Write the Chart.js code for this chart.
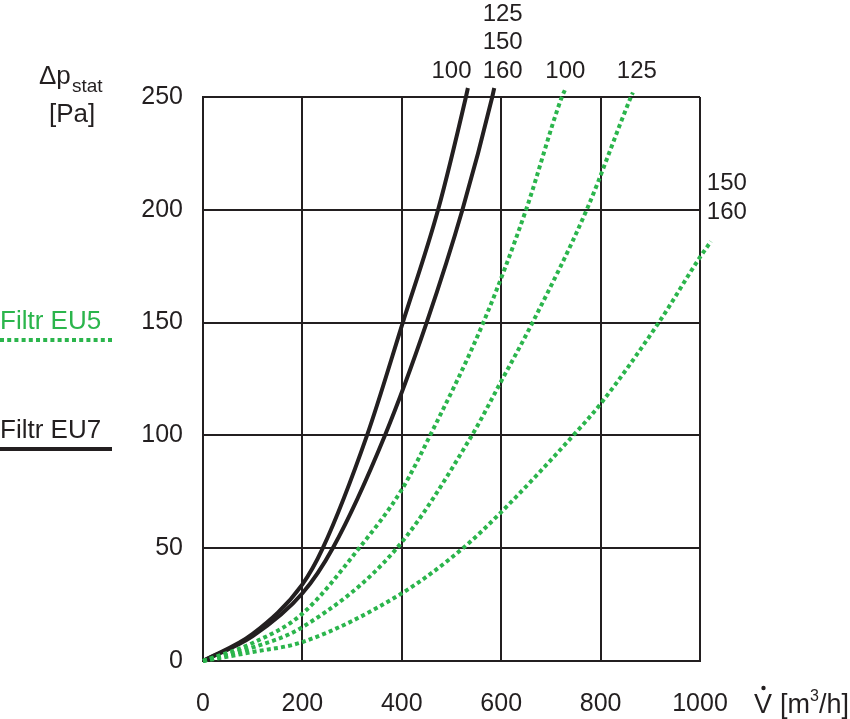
<!DOCTYPE html>
<html>
<head>
<meta charset="utf-8">
<script src="https://cdn.jsdelivr.net/npm/chart.js@4.4.1/dist/chart.umd.min.js"></script>
<style>
  html, body { margin: 0; padding: 0; background: #fff; }
  #wrap { width: 850px; height: 719px; }
</style>
</head>
<body>
<div id="wrap"><canvas id="chart" width="850" height="719"></canvas></div>
<script>
// values (flow in m3/h, pressure drop in Pa)
const xTicks = [0, 200, 400, 600, 800, 1000]
const yTicks = [0, 50, 100, 150, 200, 250]

const flowEu7_100 = [0, 100, 200, 241, 330, 402, 473, 529, 533]
const dpEu7_100   = [0, 12, 34, 50, 100, 150, 200, 250, 254]

const flowEu7_125 = [0, 100, 200, 261, 366, 450, 522, 582, 586]
const dpEu7_125   = [0, 11, 30, 50, 100, 150, 200, 250, 254]

const flowEu5_100 = [0, 100, 200, 314, 400, 457, 564, 650, 722, 728]
const dpEu5_100   = [0, 8, 21, 50, 76, 100, 150, 200, 250, 253]

const flowEu5_125 = [0, 100, 200, 390, 541, 600, 663, 772, 861, 865]
const dpEu5_125   = [0, 6, 15, 50, 100, 124, 150, 200, 250, 252]

const flowEu5_150 = [0, 100, 200, 400, 523, 600, 745, 800, 917, 1000, 1022]
const dpEu5_150   = [0, 4, 8.4, 30, 50, 66, 100, 114, 150, 179, 186]

// curve labels: text lines, anchor in data units
const curveLabels = [
    { lines: ['100'], x: 500, y: 262 },
    { lines: ['125', '150', '160'], x: 603, y: 262 },
    { lines: ['100'], x: 729, y: 262 },
    { lines: ['125'], x: 873, y: 262 },
    { lines: ['150', '160'], x: 1054, y: 199.5 }
]

const INK = '#231f20'
const GREEN = '#2bb54c'
const FONT = '"Liberation Sans", Arial, sans-serif'

const toPoints = function (xs, ys) {
    return xs.map((x, i) => ({ x: x, y: ys[i] }))
}

const solid = function (xs, ys) {
    return {
        data: toPoints(xs, ys),
        borderColor: INK,
        borderWidth: 4,
        pointRadius: 0,
        cubicInterpolationMode: 'monotone',
        clip: false
    }
}

const dotted = function (xs, ys) {
    return {
        data: toPoints(xs, ys),
        borderColor: GREEN,
        borderWidth: 4,
        borderDash: [4, 3.2],
        borderCapStyle: 'butt',
        pointRadius: 0,
        cubicInterpolationMode: 'monotone',
        clip: false
    }
}

const annotations = {
    id: 'annotations',
    afterDraw(chart) {
        const ctx = chart.ctx
        const xs = chart.scales.x
        const ys = chart.scales.y
        ctx.save()

        // curve labels
        ctx.font = '24px ' + FONT
        ctx.textAlign = 'center'
        ctx.textBaseline = 'alphabetic'
        ctx.fillStyle = INK
        curveLabels.forEach(l => {
            const px = xs.getPixelForValue(l.x)
            const py = ys.getPixelForValue(l.y) + 8
            for (let i = 0; i < l.lines.length; i++) {
                const line = l.lines[l.lines.length - 1 - i]
                ctx.fillText(line, px, py - i * 28.5)
            }
        })

        // y axis title
        ctx.textAlign = 'left'
        ctx.font = '26px ' + FONT
        ctx.fillText('\u0394p', 39, 84)
        ctx.font = '19px ' + FONT
        ctx.fillText('stat', 72, 92)
        ctx.font = '26px ' + FONT
        ctx.fillText('[Pa]', 49, 122)

        // x axis title
        ctx.font = '27px ' + FONT
        ctx.fillText('V', 754, 713)
        ctx.beginPath()
        ctx.arc(763.5, 688, 2.2, 0, Math.PI * 2)
        ctx.fill()
        ctx.fillText('[m', 780, 713)
        let w = ctx.measureText('[m').width
        ctx.font = '16px ' + FONT
        ctx.fillText('3', 780 + w, 701)
        let w2 = ctx.measureText('3').width
        ctx.font = '27px ' + FONT
        ctx.fillText('/h]', 780 + w + w2, 713)

        // filter legend
        ctx.font = '26px ' + FONT
        ctx.fillStyle = GREEN
        ctx.fillText('Filtr EU5', 0, 329)
        ctx.strokeStyle = GREEN
        ctx.lineWidth = 4
        ctx.setLineDash([4, 3.2])
        ctx.beginPath()
        ctx.moveTo(0, 340)
        ctx.lineTo(112, 340)
        ctx.stroke()

        ctx.fillStyle = INK
        ctx.fillText('Filtr EU7', 0, 438)
        ctx.strokeStyle = INK
        ctx.lineWidth = 4
        ctx.setLineDash([])
        ctx.beginPath()
        ctx.moveTo(0, 449)
        ctx.lineTo(112, 449)
        ctx.stroke()

        ctx.restore()
    }
}

const chart = new Chart(document.getElementById('chart'), {
    type: 'line',
    data: {
        datasets: [
            dotted(flowEu5_150, dpEu5_150),
            dotted(flowEu5_125, dpEu5_125),
            dotted(flowEu5_100, dpEu5_100),
            solid(flowEu7_125, dpEu7_125),
            solid(flowEu7_100, dpEu7_100)
        ]
    },
    options: {
        responsive: false,
        animation: false,
        devicePixelRatio: 1,
        layout: { padding: { left: 0, right: 150, top: 97, bottom: 0 } },
        plugins: {
            legend: { display: false },
            tooltip: { enabled: false }
        },
        scales: {
            x: {
                type: 'linear',
                // range set here (not min/max) so points past 1000 still get drawn
                afterDataLimits: s => { s.min = 0; s.max = 1000 },
                afterBuildTicks: s => { s.ticks = xTicks.map(v => ({ value: v })) },
                afterFit: s => { s.height = 58 },
                grid: { color: INK, lineWidth: 2, drawTicks: false },
                border: { color: INK, width: 2 },
                ticks: {
                    color: INK, font: { family: FONT, size: 25 }, padding: 28, maxRotation: 0,
                    callback: v => String(v)
                }
            },
            y: {
                afterDataLimits: s => { s.min = 0; s.max = 250 },
                afterBuildTicks: s => { s.ticks = yTicks.map(v => ({ value: v })) },
                afterFit: s => { s.width = 203 },
                grid: { color: INK, lineWidth: 2, drawTicks: false },
                border: { color: INK, width: 2 },
                ticks: {
                    color: INK, font: { family: FONT, size: 25 }, padding: 20,
                    callback: v => String(v)
                }
            }
        }
    },
    plugins: [annotations]
})
</script>
</body>
</html>
